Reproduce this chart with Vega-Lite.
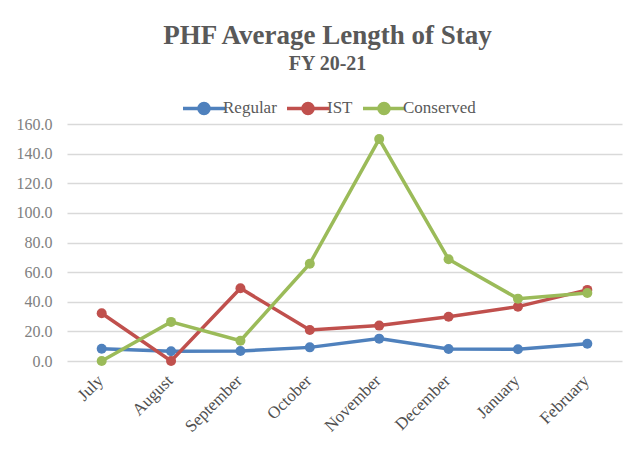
{
  "$schema": "https://vega.github.io/schema/vega-lite/v6.json",
  "width": 555,
  "height": 237,
  "autosize": {"type": "none"},
  "padding": {"left": 67, "top": 124, "right": 15, "bottom": 100},
  "background": "white",
  "title": {
    "text": "PHF Average Length of Stay",
    "subtitle": "FY 20-21",
    "font": "Liberation Serif",
    "fontSize": 27,
    "fontWeight": "bold",
    "color": "#595959",
    "subtitleFont": "Liberation Serif",
    "subtitleFontSize": 20,
    "subtitleFontWeight": "bold",
    "subtitleColor": "#595959",
    "subtitlePadding": 4,
    "anchor": "middle",
    "dx": -17,
    "offset": 17
  },
  "data": {
    "values": [
      {"month": "July", "series": "Regular", "value": 8.3},
      {"month": "August", "series": "Regular", "value": 6.6},
      {"month": "September", "series": "Regular", "value": 6.8},
      {"month": "October", "series": "Regular", "value": 9.2},
      {"month": "November", "series": "Regular", "value": 15.1},
      {"month": "December", "series": "Regular", "value": 8.1},
      {"month": "January", "series": "Regular", "value": 7.9},
      {"month": "February", "series": "Regular", "value": 11.7},
      {"month": "July", "series": "IST", "value": 32.2},
      {"month": "August", "series": "IST", "value": 0},
      {"month": "September", "series": "IST", "value": 49.1},
      {"month": "October", "series": "IST", "value": 20.9},
      {"month": "November", "series": "IST", "value": 23.9},
      {"month": "December", "series": "IST", "value": 29.9},
      {"month": "January", "series": "IST", "value": 36.7},
      {"month": "February", "series": "IST", "value": 48.0},
      {"month": "July", "series": "Conserved", "value": 0},
      {"month": "August", "series": "Conserved", "value": 26.4},
      {"month": "September", "series": "Conserved", "value": 13.7},
      {"month": "October", "series": "Conserved", "value": 65.7},
      {"month": "November", "series": "Conserved", "value": 149.8},
      {"month": "December", "series": "Conserved", "value": 68.7},
      {"month": "January", "series": "Conserved", "value": 42.1},
      {"month": "February", "series": "Conserved", "value": 45.9}
    ]
  },
  "mark": {"type": "line", "strokeWidth": 3.5, "point": {"size": 100, "filled": true, "opacity": 1}},
  "encoding": {
    "x": {
      "field": "month",
      "type": "nominal",
      "sort": ["July", "August", "September", "October", "November", "December", "January", "February"],
      "scale": {"paddingInner": 1, "paddingOuter": 0.5},
      "axis": {
        "title": null,
        "labelAngle": -45,
        "labelAlign": "right",
        "labelBaseline": "top",
        "labelFont": "Liberation Serif",
        "labelFontSize": 17,
        "labelFontWeight": "normal",
        "labelColor": "#505050",
        "labelPadding": 11,
        "labelOffset": -7,
        "ticks": false,
        "domain": false,
        "grid": false
      }
    },
    "y": {
      "field": "value",
      "type": "quantitative",
      "scale": {"domain": [0, 160], "nice": false},
      "axis": {
        "title": null,
        "values": [0, 20, 40, 60, 80, 100, 120, 140, 160],
        "format": ".1f",
        "labelFont": "Liberation Serif",
        "labelFontSize": 16,
        "labelColor": "#808080",
        "labelPadding": 15,
        "ticks": false,
        "domain": false,
        "grid": true,
        "gridColor": "#d9d9d9",
        "gridWidth": 1.3
      }
    },
    "color": {
      "field": "series",
      "type": "nominal",
      "sort": ["Regular", "IST", "Conserved"],
      "scale": {"domain": ["Regular", "IST", "Conserved"], "range": ["#4F81BD", "#C0504D", "#9BBB59"]},
      "legend": {
        "title": null,
        "orient": "none",
        "direction": "horizontal",
        "legendX": 121,
        "legendY": -32,
        "symbolType": "M -1.5 0 L 1.5 0 M 0.36 0 A 0.36 0.36 0 1 1 -0.36 0 A 0.36 0.36 0 1 1 0.36 0",
        "symbolSize": 784,
        "symbolStrokeWidth": 3.5,
        "labelFont": "Liberation Serif",
        "labelFontSize": 17,
        "labelColor": "#595959",
        "labelOffset": 3,
        "columnPadding": 3,
        "encode": {
          "symbols": {"update": {"fill": {"scale": "color", "field": "value"}, "fillOpacity": {"value": 1}}}
        }
      }
    }
  },
  "config": {"view": {"stroke": null}}
}
